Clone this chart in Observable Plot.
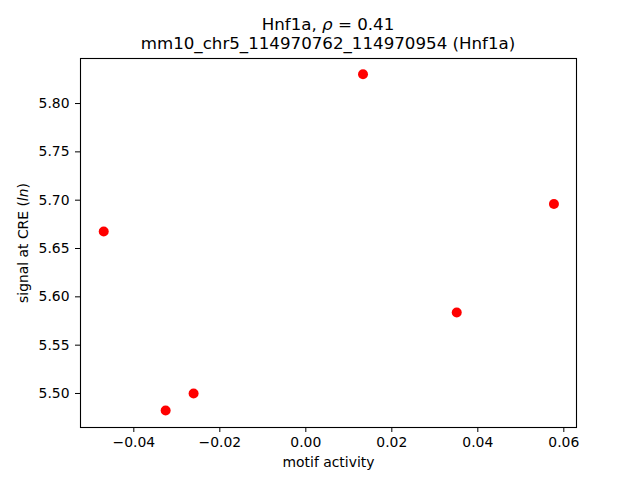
<!DOCTYPE html>
<html>
<head>
<meta charset="utf-8">
<script src="https://cdn.jsdelivr.net/npm/d3@7"></script>
<script src="https://cdn.jsdelivr.net/npm/@observablehq/plot@0.6"></script>
<style>
  html, body { margin: 0; padding: 0; background: #fff; }
  #wrap { width: 640px; height: 480px; position: relative; font-family: "DejaVu Sans", sans-serif; color: #000; }
  .title { box-sizing: border-box; width: 640px; height: 53px; padding-top: 15px; padding-left: 16px;
           font-size: 16.67px; line-height: 19px; text-align: center; white-space: nowrap; }
  .title div { height: 19px; }
  svg { display: block; }
</style>
</head>
<body>
<div id="wrap">
  <div class="title">
    <div>Hnf1a, <i>ρ</i> = 0.41</div>
    <div>mm10_chr5_114970762_114970954 (Hnf1a)</div>
  </div>
  <div id="chart"></div>
</div>
<script>
// Data
const motifActivity = [-0.0470, -0.0326, -0.0261, 0.0133, 0.0351, 0.0577];
const signalAtCRE   = [5.6676, 5.4824, 5.5000, 5.8303, 5.5838, 5.6961];
const xTicks = [-0.04, -0.02, 0.00, 0.02, 0.04, 0.06];
const yTicks = [5.50, 5.55, 5.60, 5.65, 5.70, 5.75, 5.80];
const xLabel = "motif activity";
const yLabel = "signal at CRE (ln)";

const points = motifActivity.map((x, i) => ({x, y: signalAtCRE[i]}));
const fmt = d3.format(".2f");

const chart = Plot.plot({
  width: 640,
  height: 427,
  marginTop: 5,
  marginBottom: 53,
  marginLeft: 80,
  marginRight: 64,
  style: {fontFamily: "DejaVu Sans, sans-serif", fontSize: "13.9px", background: "white", color: "black", overflow: "visible"},
  x: {domain: [-0.05240, 0.06295]},
  y: {domain: [5.4648, 5.8466]},
  marks: [
    Plot.axisX({ticks: xTicks, tickFormat: fmt, tickSize: 5, tickPadding: 5, label: xLabel,
                labelAnchor: "center", labelArrow: false, labelOffset: 39}),
    Plot.axisY({ticks: yTicks, tickFormat: fmt, tickSize: 5, tickPadding: 6, label: yLabel,
                labelAnchor: "center", labelArrow: false, labelOffset: 62}),
    Plot.dot(points, {x: "x", y: "y", r: 5, fill: "#ff0000", stroke: "none"}),
    Plot.frame({stroke: "black", strokeWidth: 1.1})
  ]
});
document.getElementById("chart").appendChild(chart);

// Make "ln" italic in the y-axis label
d3.select(chart).selectAll('g[aria-label="y-axis label"] text').each(function () {
  let node = this;
  const ts = node.querySelector("tspan");
  if (ts) node = ts;
  const sel = d3.select(node);
  sel.text(null);
  sel.append("tspan").text("signal at CRE (");
  sel.append("tspan").attr("font-style", "italic").text("ln");
  sel.append("tspan").text(")");
});
</script>
</body>
</html>
